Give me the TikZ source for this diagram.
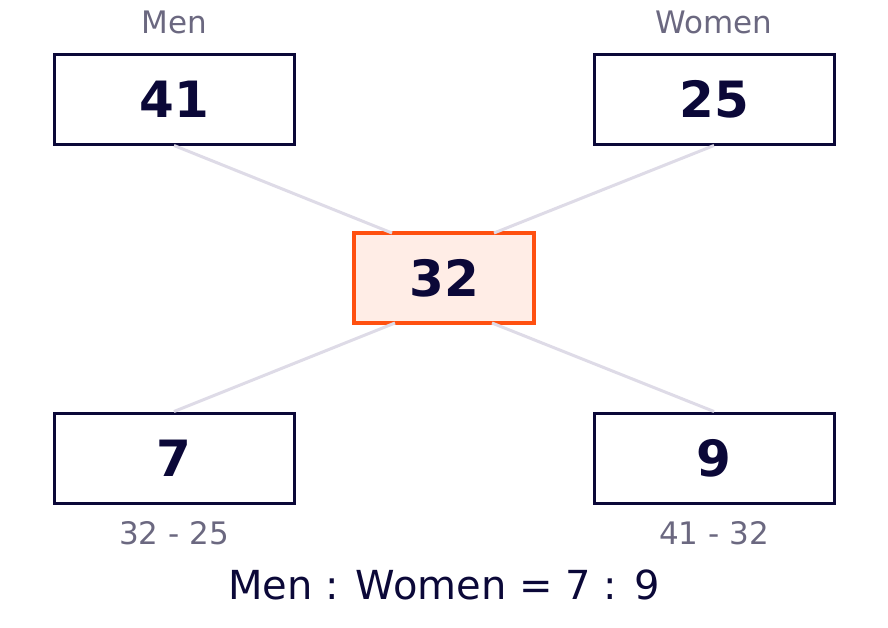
\documentclass[tikz,border=0pt]{standalone}
\usepackage{fontspec}
\setmainfont{DejaVu Sans}
\begin{document}
\begin{tikzpicture}[x=1pt,y=-1pt,
  box/.style={draw=navy,line width=3pt,minimum width=240pt,minimum height=90pt,inner sep=0pt,font=\fontsize{50}{50}\selectfont\bfseries,text=navy},
  mid/.style={box,draw=org,fill=orgfill,line width=4pt,minimum width=180pt},
  conn/.style={draw=lav,line width=3pt},
  lab/.style={text=gry,font=\fontsize{31}{31}\selectfont}]
\definecolor{navy}{HTML}{0B0838}
\definecolor{org}{HTML}{FF5010}
\definecolor{orgfill}{HTML}{FFEDE6}
\definecolor{lav}{HTML}{DEDBE7}
\definecolor{gry}{HTML}{6B6880}
\useasboundingbox (0,0) rectangle (888,627);
\node[box] (a) at (174,99) {41};
\node[box] (b) at (714,99) {25};
\node[mid] (m) at (444,278) {32};
\node[box] (c) at (174,458) {7};
\node[box] (d) at (714,458) {9};
\coordinate (m1) at (392,233);
\coordinate (m2) at (494,233);
\coordinate (m3) at (395,323);
\coordinate (m4) at (492,323);
\begin{scope}[on background layer/.style={}]
\end{scope}
\node[lab] (la) at (174,22) {Men};
\node[lab] (lb) at (714,22) {Women};
\node[lab] (lc) at (174,533) {32 - 25};
\node[lab] (ld) at (714,533) {41 - 32};
\node[text=navy,font=\fontsize{40}{40}\selectfont] (r) at (444,585) {Men : Women = 7 : 9};
\draw[conn] (a.south) -- (m1);
\draw[conn] (b.south) -- (m2);
\draw[conn] (m3) -- (c.north);
\draw[conn] (m4) -- (d.north);
\end{tikzpicture}
\end{document}
